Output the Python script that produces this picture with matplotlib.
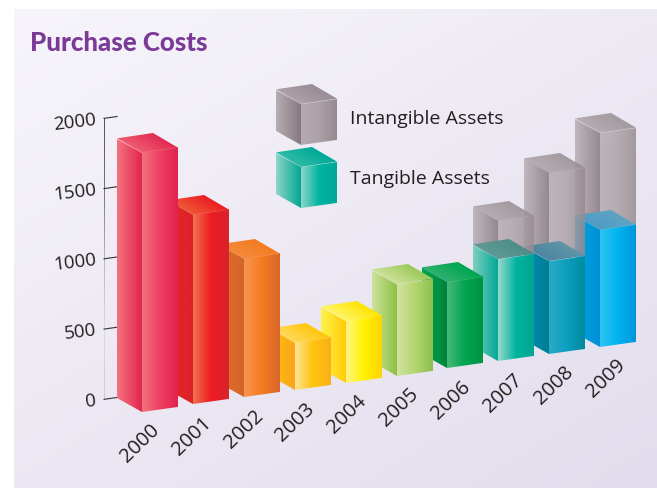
#!/usr/bin/env python3
"""Purchase Costs: hand-projected 3D bars, tangible plus intangible assets."""
import numpy as np
import matplotlib
matplotlib.use("Agg")
import matplotlib.pyplot as plt
from matplotlib.colors import to_rgb
from matplotlib.patches import Polygon
from matplotlib.transforms import Affine2D

YEARS = ["2000", "2001", "2002", "2003", "2004", "2005", "2006", "2007", "2008", "2009"]
TANGIBLE = [1843, 1350, 986, 337, 441, 648, 614, 724, 660, 833]
TOTAL = [None, None, None, None, None, None, None, 1000, 1290, 1522]
Y_TICKS = [0, 500, 1000, 1500, 2000]
LEGEND_LABELS = ["Intangible Assets", "Tangible Assets"]

W, H = 657, 489
BAR_W = 0.707                # bar width, in bar steps
DEPTH = np.array([-25.0, -14.0])   # pixels from front to back of a bar

# (bar index, value) -> pixel
proj = Affine2D.from_values(50.9, -7.2, 0, -0.1405, 142, 412.5)

# (side, front, top) gradients, left to right
FACES = [
    (["#f4737f", "#e2264f"], ["#f4727e", "#ee3f63", "#e0224f"], ["#ef5c72", "#e22a52"]),
    (["#ec2327", "#d9232a"], ["#f2714f", "#ec1c24", "#d9232a"], ["#ef5a36", "#ec1c24"]),
    (["#e0702a", "#d4652a"], ["#f79552", "#f47b20", "#d9662a"], ["#f58a3c", "#f47b20"]),
    (["#ffc20e", "#f8a51b"], ["#fee394", "#fdc40f", "#fbb017"], ["#ffd95a", "#ffc60b"]),
    (["#fff34d", "#ffcb05"], ["#fff586", "#fff200", "#ffd400"], ["#fff568", "#ffe400"]),
    (["#cfe39a", "#8dc044"], ["#cfe3a0", "#b5d56f", "#8cc04f"], ["#cde198", "#9bc95a"]),
    (["#00a651", "#00843d"], ["#48b878", "#00a651", "#009245"], ["#2fb170", "#00a651"]),
    (["#7fd0c0", "#00a796"], ["#9ad8cc", "#00b4a0", "#00a592"], ["#5f9a96", "#4f8d88"]),
    (["#008cc0", "#007f90"], ["#2aa9c6", "#0c9fc0", "#008a9e"], ["#4d86a0", "#5f94a8"]),
    (["#00a6e2", "#0090d6"], ["#2fc4f4", "#00b4ef", "#0095da"], ["#4f9cc4", "#5ea3c4"]),
]
GRAY = (["#b8adb3", "#85797f"], ["#b6abb1", "#aca1a7", "#968b91"], ["#aca2a7", "#978d92"])
TEAL = (["#8fd5c8", "#00a693"], ["#8fd6c9", "#00b5a0", "#00a896"], ["#2ebba8", "#00a896"])


def ramp(colors, alpha=1.0, n=128):
    stops = np.linspace(0, 1, len(colors))
    rgb = np.array([to_rgb(c) for c in colors])
    t = np.linspace(0, 1, n)
    row = np.column_stack([np.interp(t, stops, rgb[:, k]) for k in range(3)] + [np.full(n, alpha)])
    return np.stack([row, row])


def face(ax, p0, u, v, colors, alpha=1.0, z=2):
    # gradient parallelogram p0, p0+u, p0+u+v, p0+v
    tf = Affine2D.from_values(u[0], u[1], v[0], v[1], p0[0], p0[1]) + ax.transData
    ax.imshow(ramp(colors, alpha), extent=(0, 1, 0, 1), transform=tf, origin="lower",
              aspect="auto", interpolation="bilinear", zorder=z)


def box(ax, i, v0, v1, faces, alpha=1.0, z=2, edge="#ffffff"):
    p_low = proj.transform_point((i, v0))
    p_high = proj.transform_point((i, v1))
    p_right = proj.transform_point((i + BAR_W, v1))
    up = p_high - p_low
    across = p_right - p_high
    side, front, top = faces
    face(ax, p_low + DEPTH, -DEPTH, up, side, alpha, z)
    face(ax, p_low, across, up, front, alpha, z)
    face(ax, p_high, across, DEPTH, top, alpha, z)
    # thin light rims on the top edges
    rim = [p_high + DEPTH, p_high, p_right]
    ax.add_patch(Polygon(rim, closed=False, fill=False, ec=edge, lw=0.5, alpha=0.16, zorder=z))


fig = plt.figure(figsize=(W / 100, H / 100), dpi=100, facecolor="white")
ax = fig.add_axes([0, 0, 1, 1])
ax.set_autoscale_on(False)
ax.set_xlim(0, W)
ax.set_ylim(H, 0)
ax.axis("off")

# panel with diagonal gradient
gx, gy = np.meshgrid(np.linspace(0, 1, 64), np.linspace(0, 1, 64))
shade = (gx * 0.45 + gy * 0.55)[..., None]
panel = np.array(to_rgb("#f7f5fb")) * (1 - shade) + np.array(to_rgb("#e2ddec")) * shade
ax.imshow(panel, extent=(14, W, H, 10), aspect="auto", interpolation="bilinear", zorder=0)

# axis line (fades towards the bottom) and ticks
axis_top = proj.transform_point((0, 2000)) + DEPTH
axis_low = proj.transform_point((0, 0)) + DEPTH
tick_dx = proj.transform_point((-0.255, 0)) - proj.transform_point((0, 0))
face(ax, axis_low + tick_dx, axis_top - axis_low, np.array([0.9, 0.0]),
     ["#cfccd4", "#dcd9e2", "#b8b5bc", "#77747a", "#55525a"], z=1)
for val in Y_TICKS:
    p = proj.transform_point((0, val)) + DEPTH
    ax.plot([p[0] + tick_dx[0], p[0]], [p[1] + tick_dx[1], p[1]], color="#333333", lw=0.8, zorder=1)
    ax.text(p[0] - 21, p[1] + 2, str(val), ha="right", va="center", rotation=7,
            rotation_mode="anchor", fontsize=13.5, family="Open Sans", color="#231f20")

# back to front
for i in range(len(YEARS) - 1, -1, -1):
    z = 2 + (9 - i) * 0.1
    if TOTAL[i] is not None:
        box(ax, i, TANGIBLE[i], TOTAL[i], GRAY, alpha=0.85, z=z)
    box(ax, i, 0, TANGIBLE[i], FACES[i], z=z)
    p = proj.transform_point((i, 0))
    ax.text(p[0] - 2 + 0.9 * i, p[1] + 31, YEARS[i], ha="center", va="center", rotation=44,
            rotation_mode="anchor", fontsize=14.5, family="Open Sans", color="#231f20")

# legend cubes sit in the same projection
box(ax, 3.124, 1739, 2029, GRAY, z=4)
box(ax, 3.124, 1291, 1581, TEAL, z=4)
ax.text(350, 118.5, LEGEND_LABELS[0], ha="left", va="center", fontsize=14,
        family="Open Sans", color="#231f20")
ax.text(350, 179.5, LEGEND_LABELS[1], ha="left", va="center", fontsize=14,
        family="Open Sans", color="#231f20")

ax.text(30, 43, "Purchase Costs", ha="left", va="center", fontsize=18.6,
        family="Lato", weight="black", color="#7b3a96")

ax.set_xlim(0, W)
ax.set_ylim(H, 0)
fig.savefig("out.png", dpi=100)
